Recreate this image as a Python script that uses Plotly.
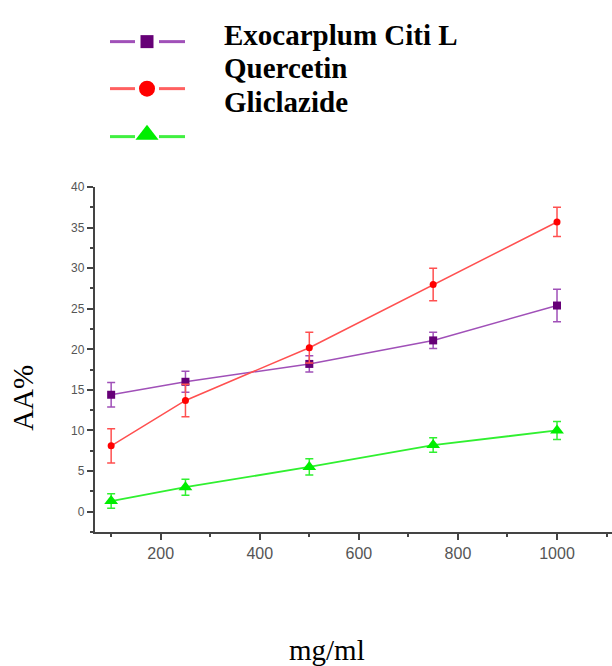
import plotly.graph_objects as go

# ---- data ----
conc = [100, 250, 500, 750, 1000]
exo_vals = [14.4, 16.0, 18.2, 21.1, 25.4]
exo_err = [1.5, 1.3, 1.0, 1.0, 2.0]
quer_vals = [8.1, 13.7, 20.2, 28.0, 35.7]
quer_err = [2.1, 2.0, 1.9, 2.0, 1.8]
glic_vals = [1.3, 3.0, 5.5, 8.2, 10.0]
glic_err = [0.9, 1.0, 1.0, 0.9, 1.1]
series_names = ["Exocarplum Citi L", "Quercetin", "Gliclazide"]

W, H = 612, 666

fig = go.Figure()

def add_series(y, err, line_col, mk_col, symbol, size, lw):
    fig.add_trace(go.Scatter(
        x=conc, y=y, mode="lines+markers",
        line=dict(color=line_col, width=lw),
        marker=dict(color=mk_col, symbol=symbol, size=size),
        error_y=dict(type="data", array=err, visible=True, color=line_col,
                     thickness=1.5, width=4),
        showlegend=False, xaxis="x", yaxis="y", cliponaxis=False))

add_series(exo_vals, exo_err, "#a050b8", "#660077", "square", 8, 1.5)
add_series(quer_vals, quer_err, "#ff5050", "#ff0000", "circle", 7, 1.5)
add_series(glic_vals, glic_err, "#30f030", "#00ee00", "triangle-up", 12, 1.8)

# ---- custom legend glyphs on a pixel-overlay axis ----
leg_rows = [35, 82.5, 131]
leg_cols = [("#a050b8", "#660077", "square", 13),
            ("#ff6060", "#ff0000", "circle", 16),
            ("#40f040", "#00ee00", "triangle-up", 20)]
for yy, (lc, mc, sym, sz) in zip(leg_rows, leg_cols):
    fig.add_trace(go.Scatter(
        x=[110, 135, None, 159, 185], y=[yy, yy, None, yy, yy], mode="lines",
        line=dict(color=lc, width=3), showlegend=False, hoverinfo="skip",
        xaxis="x2", yaxis="y2"))
    fig.add_trace(go.Scatter(
        x=[147], y=[yy - (2 if sym == "triangle-up" else 0)], mode="markers",
        marker=dict(color=mc, symbol=sym, size=sz), showlegend=False,
        hoverinfo="skip", xaxis="x2", yaxis="y2", cliponaxis=False))

text_y = [28, 62, 96]
for name, ty in zip(series_names, text_y):
    fig.add_annotation(text=name, x=222 / W, y=1 - ty / H, xref="paper", yref="paper",
                       xanchor="left", yanchor="middle", showarrow=False,
                       font=dict(family="Liberation Serif", size=29, color="black",
                                 weight="bold"))

# axis titles
fig.add_annotation(text="AA%", x=23 / W, y=1 - 395 / H, xref="paper", yref="paper",
                   textangle=-90, showarrow=False, xanchor="center", yanchor="middle",
                   font=dict(family="Liberation Serif", size=29, color="black"))
fig.add_annotation(text="mg/ml", x=327 / W, y=1 - 650 / H, xref="paper", yref="paper",
                   showarrow=False, xanchor="center", yanchor="middle",
                   font=dict(family="Liberation Serif", size=29, color="black"))

axis_col = "#444444"
fig.update_layout(
    width=W, height=H,
    margin=dict(l=0, r=0, t=0, b=0),
    paper_bgcolor="white", plot_bgcolor="rgba(0,0,0,0)",
    xaxis=dict(domain=[94.5 / W, 1], range=[66.4, 1111], anchor="y",
               tickmode="linear", tick0=0, dtick=200,
               showgrid=False, zeroline=False, showline=True, linecolor=axis_col,
               linewidth=1.5, ticks="outside", ticklen=6, tickwidth=1.5,
               tickcolor=axis_col,
               minor=dict(dtick=100, ticks="outside", ticklen=3, tickwidth=1.5,
                          tickcolor=axis_col, showgrid=False),
               tickfont=dict(family="Liberation Sans", size=16, color="#555555")),
    yaxis=dict(domain=[(H - 531) / H, (H - 182) / H], range=[-2.57, 40], anchor="x",
               tickmode="linear", tick0=0, dtick=5,
               showgrid=False, zeroline=False, showline=True, linecolor=axis_col,
               linewidth=1.5, ticks="outside", ticklen=6, tickwidth=1.5,
               tickcolor=axis_col,
               minor=dict(dtick=2.5, ticks="outside", ticklen=3, tickwidth=1.5,
                          tickcolor=axis_col, showgrid=False),
               tickfont=dict(family="Liberation Sans", size=12, color="#555555")),
    xaxis2=dict(domain=[0, 1], range=[0, W], anchor="y2", visible=False, fixedrange=True),
    yaxis2=dict(domain=[0, 1], range=[H, 0], anchor="x2", visible=False, fixedrange=True),
)

fig.write_html("out.html", config={"displayModeBar": False},
               post_script="document.body.style.margin='0';document.body.style.padding='0';")
